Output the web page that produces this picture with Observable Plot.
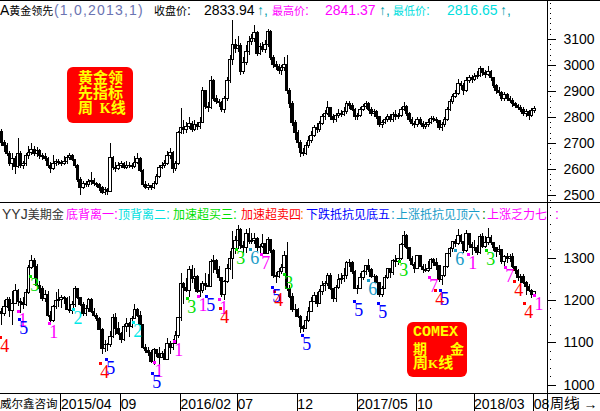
<!DOCTYPE html>
<html><head><meta charset="utf-8">
<script src="https://cdn.jsdelivr.net/npm/d3@7"></script>
<script src="https://cdn.jsdelivr.net/npm/@observablehq/plot@0.6"></script>
<style>
body{margin:0;background:#fff;}
#wrap{position:relative;width:600px;height:411px;overflow:hidden;background:#fff;font-family:"Liberation Sans",Arial,sans-serif;font-size:14px;color:#000;}
.abs{position:absolute;white-space:nowrap;line-height:16px;}
.hl{position:absolute;left:0;width:600px;height:1px;background:#000;}
.vl{position:absolute;top:0;left:547px;width:1px;height:411px;background:#000;}
.box{position:absolute;background:#ff0000;border-radius:6px;color:#ffff00;font-weight:bold;font-family:"Noto Sans CJK SC",sans-serif;}
.box div{white-space:nowrap;}
svg{position:absolute;left:0;}
</style></head><body><div id="wrap"></div>
<script>
// ---------- data ----------
const comexOpen0 = 1172;
const comexClose = [1169,1185,1201,1175,1191,1222,1196,1195,1189,1217,
1277,1293,1279,1234,1227,1204,1213,1164,1152,1184,
1199,1201,1205,1203,1178,1176,1189,1226,1205,1190,
1168,1180,1201,1173,1163,1157,1131,1085,1095,1094,
1113,1159,1133,1121,1108,1137,1145,1137,1156,1177,
1163,1142,1088,1081,1076,1056,1084,1075,1065,1075,
1060,1098,1089,1098,1116,1158,1239,1230,1222,1271,
1250,1255,1221,1223,1240,1234,1232,1290,1294,1273,
1252,1212,1244,1275,1298,1322,1340,1366,1328,1323,
1357,1337,1341,1345,1324,1327,1334,1310,1342,1317,
1257,1255,1267,1276,1305,1227,1208,1178,1177,1162,
1137,1133,1152,1173,1197,1210,1191,1220,1234,1239,
1258,1226,1203,1230,1249,1251,1257,1289,1289,1268,
1228,1228,1254,1268,1281,1271,1256,1256,1242,1212,
1228,1254,1274,1264,1294,1291,1297,1330,1351,1324,
1297,1284,1275,1304,1280,1272,1269,1274,1296,1288,
1281,1248,1257,1278,1309,1322,1338,1333,1351,1337,
1316,1356,1330,1323,1324,1313,1350,1327,1336,1348,
1336,1323,1315,1320,1291,1303,1298,1302,1279,1270,
1254,1255,1241,1231,1223,1214,1219];
const comexHigh = [1180,1200,1208,1207,1222,1238,1225,1205,1208,1225,
1282,1307,1298,1285,1244,1232,1224,1222,1175,1188,
1219,1225,1212,1209,1207,1209,1197,1232,1227,1206,
1196,1188,1205,1205,1180,1170,1160,1135,1105,1099,
1126,1168,1170,1147,1125,1144,1157,1148,1162,1191,
1180,1174,1143,1097,1090,1081,1088,1085,1089,1080,
1085,1111,1103,1108,1128,1160,1263,1243,1253,1281,
1282,1275,1260,1241,1246,1263,1262,1297,1306,1296,
1281,1254,1248,1286,1315,1362,1350,1377,1370,1339,
1367,1369,1357,1358,1348,1331,1356,1335,1348,1345,
1320,1267,1275,1285,1315,1338,1235,1217,1191,1180,
1165,1142,1163,1183,1207,1220,1219,1226,1244,1244,
1264,1264,1229,1236,1261,1264,1275,1292,1297,1293,
1270,1236,1264,1271,1282,1297,1275,1261,1260,1243,
1233,1258,1275,1275,1296,1306,1299,1334,1362,1356,
1326,1304,1290,1306,1306,1286,1284,1291,1299,1298,
1299,1282,1260,1279,1311,1326,1340,1345,1367,1356,
1339,1365,1358,1336,1341,1330,1356,1357,1350,1369,
1354,1338,1326,1330,1321,1306,1310,1309,1310,1281,
1272,1262,1262,1245,1237,1226,1222];
const comexLow = [1140,1162,1180,1161,1142,1190,1187,1170,1178,1185,
1215,1274,1251,1230,1216,1197,1195,1161,1142,1148,
1178,1183,1180,1191,1176,1170,1168,1183,1203,1185,
1162,1162,1172,1169,1160,1150,1130,1072,1077,1079,
1090,1110,1118,1118,1098,1104,1124,1113,1135,1155,
1159,1140,1085,1075,1068,1052,1046,1066,1046,1064,
1058,1061,1072,1082,1098,1110,1150,1191,1220,1208,
1240,1227,1216,1208,1216,1223,1230,1230,1264,1262,
1245,1206,1200,1240,1270,1250,1308,1320,1320,1311,
1312,1333,1332,1331,1316,1306,1322,1309,1310,1311,
1252,1241,1251,1261,1275,1221,1204,1171,1159,1158,
1122,1124,1131,1148,1172,1195,1183,1190,1213,1221,
1233,1224,1196,1195,1227,1238,1243,1250,1278,1262,
1226,1214,1226,1247,1260,1266,1252,1240,1239,1207,
1208,1225,1249,1253,1258,1279,1283,1294,1326,1320,
1291,1281,1264,1273,1277,1264,1266,1266,1272,1280,
1270,1243,1236,1254,1276,1301,1313,1324,1330,1332,
1310,1314,1323,1307,1316,1306,1309,1322,1323,1330,
1330,1316,1302,1305,1285,1281,1288,1290,1275,1262,
1245,1240,1237,1211,1219,1204,1209];

const goldOpen0 = 2745;
const goldClose = [2700,2690,2660,2620,2640,2610,2660,2615,2620,2650,
2665,2675,2660,2670,2650,2648,2640,2615,2600,2620,
2630,2625,2622,2628,2645,2650,2635,2615,2560,2530,
2545,2540,2550,2555,2545,2540,2530,2510,2520,2515,
2645,2605,2600,2615,2620,2605,2612,2615,2610,2625,
2640,2595,2540,2530,2535,2530,2545,2570,2605,2615,
2620,2650,2665,2600,2620,2740,2760,2750,2765,2775,
2750,2770,2765,2780,2900,2840,2835,2940,2870,2860,
2855,2830,2870,2940,3020,3080,3065,3075,2975,3010,
3050,3090,3100,3125,3045,3070,3060,3080,3130,3030,
3000,2995,2980,2990,3000,2900,2850,2780,2740,2700,
2665,2660,2690,2710,2730,2760,2750,2775,2800,2815,
2835,2800,2790,2805,2815,2810,2820,2850,2845,2830,
2800,2805,2830,2840,2850,2830,2815,2820,2800,2770,
2780,2790,2800,2790,2810,2800,2805,2830,2840,2815,
2790,2775,2770,2790,2775,2765,2770,2780,2795,2790,
2785,2760,2770,2790,2830,2860,2880,2890,2930,2920,
2900,2940,2950,2945,2955,2960,2985,2970,2965,2975,
2950,2920,2900,2895,2870,2885,2870,2865,2850,2845,
2835,2830,2815,2820,2805,2825,2833.94];
const goldHigh = [2752,2712,2698,2668,2660,2648,2719,2668,2630,2660,
2690,2700,2690,2685,2678,2662,2660,2645,2625,2655,
2640,2640,2635,2650,2655,2660,2658,2640,2620,2570,
2555,2552,2560,2590,2565,2550,2545,2535,2530,2528,
2700,2650,2625,2625,2632,2628,2630,2625,2622,2650,
2662,2645,2600,2552,2545,2540,2555,2580,2615,2625,
2635,2668,2680,2670,2630,2745,2835,2790,2780,2800,
2785,2790,2780,2800,2915,2905,2858,2958,2945,2885,
2870,2862,2880,2955,3040,3173,3100,3110,3085,3030,
3075,3110,3120,3154,3130,3085,3090,3095,3140,3135,
3040,3015,3005,3000,3030,3040,2910,2860,2790,2750,
2710,2680,2705,2725,2745,2770,2775,2785,2812,2825,
2860,2840,2810,2815,2830,2825,2840,2862,2860,2855,
2835,2815,2840,2850,2862,2858,2838,2830,2825,2805,
2790,2800,2812,2810,2820,2825,2815,2840,2858,2845,
2820,2798,2785,2800,2798,2785,2782,2792,2805,2805,
2800,2790,2780,2798,2838,2870,2890,2905,2945,2940,
2930,2955,2962,2960,2968,2975,2995,2990,2980,2998,
2980,2955,2928,2915,2900,2895,2892,2880,2872,2858,
2850,2845,2838,2830,2825,2835,2841.37];
const goldLow = [2688,2665,2650,2610,2596,2580,2605,2602,2600,2612,
2640,2652,2648,2645,2640,2636,2630,2605,2585,2595,
2610,2615,2612,2615,2620,2635,2630,2605,2550,2500,
2522,2530,2532,2540,2535,2530,2515,2502,2500,2498,
2512,2595,2590,2595,2605,2598,2600,2602,2600,2605,
2618,2588,2532,2522,2520,2518,2522,2540,2565,2598,
2605,2615,2640,2585,2592,2615,2735,2735,2740,2755,
2742,2745,2748,2755,2775,2830,2820,2830,2862,2850,
2840,2820,2815,2862,2930,3000,3045,3050,2960,2965,
3000,3040,3075,3090,3035,3038,3050,3045,3070,3020,
2990,2980,2965,2960,2975,2890,2835,2765,2710,2680,
2646,2650,2655,2680,2700,2722,2738,2742,2770,2790,
2808,2790,2775,2780,2795,2798,2805,2812,2830,2822,
2790,2788,2798,2822,2830,2822,2805,2800,2792,2760,
2758,2772,2782,2780,2782,2790,2792,2798,2822,2805,
2780,2765,2758,2762,2768,2752,2755,2762,2772,2780,
2775,2750,2745,2762,2785,2822,2850,2872,2885,2905,
2885,2895,2930,2932,2940,2945,2952,2958,2950,2958,
2940,2910,2890,2882,2860,2862,2860,2855,2840,2835,
2825,2820,2805,2800,2790,2798,2816.65];

// x axis (weekly bar index of first week of month)
const tickIdx = [21,43,65,86,108,130,152,173,195];
const tickLabels = ["2015/04","09","2016/02","07","12","2017/05","10","2018/03","08"];
const goldTicks = [2500,2600,2700,2800,2900,3000,3100];
const comexTicks = [1000,1100,1200,1300];

// signal markers on the COMEX panel
const markerIdx = [1.1,7.7,8.1,12.1,19.1,28,37.9,40.1,50,57.8,57,65.1,69.9,74,76.9,81.7,82,87.9,93.1,97.1,101.2,101.9,105.6,112.2,131.3,136.5,140.2,147.9,158.9,161.1,163,168.5,173.3,179.9,186.9,190.2,193.9,197.6];
const markerVal = [1092,1153,1134,1235,1125,1158,1030,1040,1127,1033,1007,1082,1183,1188,1188,1181,1160,1299,1299,1287,1209,1200,1240,1096,1176,1226,1172,1271,1233,1202,1202,1297,1287,1297,1257,1224,1172,1191];
const markerType = [4,1,5,3,1,2,4,5,2,1,5,1,3,1,5,1,4,3,6,7,5,4,3,5,5,6,5,3,7,4,5,6,1,3,7,4,4,1];
const typeColor = {1:"#ff00ff",2:"#00e8e8",3:"#00e000",4:"#ff0000",5:"#0000ff",6:"#1a9cc8",7:"#ff00ff"};

// ---------- build ----------
const wrap = document.getElementById("wrap");
const xDomain = [-0.478, 200.77];
const FONT = "Liberation Sans, Arial, sans-serif";

function rowsOf(open0, close, high, low){
  return close.map((c,i)=>({i, o: i===0 ? open0 : close[i-1], c, h: high[i], l: low[i]}));
}
function candles(rows){
  const up = rows.filter(d=>d.c>d.o), dn = rows.filter(d=>d.c<d.o), eq = rows.filter(d=>d.c===d.o);
  const bx1 = d=>d.i-0.45, bx2 = d=>d.i+0.45;
  return [
    Plot.ruleX(rows,{x:"i",y1:"l",y2:"h",stroke:"#000",strokeWidth:1}),
    Plot.rect(up,{x1:bx1,x2:bx2,y1:"o",y2:"c",fill:"#fff",stroke:"#000",strokeWidth:1}),
    Plot.rect(dn,{x1:bx1,x2:bx2,y1:"o",y2:"c",fill:"#000",stroke:"#000",strokeWidth:1}),
    Plot.ruleY(eq,{x1:bx1,x2:bx2,y:"c",stroke:"#000",strokeWidth:1})
  ];
}

const goldRows = rowsOf(goldOpen0, goldClose, goldHigh, goldLow);
const comexRows = rowsOf(comexOpen0, comexClose, comexHigh, comexLow);
const markers = markerIdx.map((x,k)=>({i:x, v:markerVal[k], t:String(markerType[k]), color:typeColor[markerType[k]]}));
const labMap = new Map(tickIdx.map((d,k)=>[d,tickLabels[k]]));

const topPlot = Plot.plot({
  width:600, height:203, marginTop:0, marginBottom:0, marginLeft:0, marginRight:53,
  x:{domain:xDomain, axis:null},
  y:{domain:[2469,3250]},
  style:{fontFamily:FONT, fontSize:"14px", background:"transparent", shapeRendering:"crispEdges"},
  marks:[
    ...candles(goldRows),
    Plot.axisY(goldTicks,{anchor:"right", tickSize:8, tickPadding:8, tickFormat:"d", fontSize:14}),
    Plot.axisY(d3.range(2480,3260,20),{anchor:"right", tickSize:1, dx:2, tickFormat:()=>""})
  ]
});
topPlot.style.top = "0px";
wrap.appendChild(topPlot);

const botPlot = Plot.plot({
  width:600, height:208, marginTop:0, marginBottom:18, marginLeft:0, marginRight:53,
  x:{domain:xDomain},
  y:{domain:[980.7,1428.8]},
  color:{type:"identity"},
  style:{fontFamily:FONT, fontSize:"14px", background:"transparent", shapeRendering:"crispEdges"},
  marks:[
    ...candles(comexRows),
    Plot.dot(markers,{x:"i", y:"v", fill:"color", r:1.7, symbol:"square", dx:-4, dy:-9}),
    Plot.text(markers,{x:"i", y:"v", text:"t", fill:"color", fontSize:18, fontFamily:"Liberation Serif, serif"}),
    Plot.axisY(comexTicks,{anchor:"right", tickSize:8, tickPadding:8, tickFormat:"d", fontSize:14}),
    Plot.axisY(d3.range(980,1430,20),{anchor:"right", tickSize:1, dx:2, tickFormat:()=>""}),
    Plot.axisX(tickIdx,{anchor:"bottom", tickSize:18, tickPadding:-12, textAnchor:"start", dx:2, fontSize:14, tickFormat:d=>labMap.get(d)})
  ]
});
botPlot.style.top = "203px";
wrap.appendChild(botPlot);

// ---------- lines ----------
function line(cls, top){ const d=document.createElement("div"); d.className=cls; if(top!==undefined) d.style.top=top+"px"; wrap.appendChild(d); }
line("hl",0); line("hl",202); line("hl",393); line("vl");

// ---------- text ----------
function cjkWrap(t, size){
  return t.replace(/([\u2e80-\u9fff\uff00-\uffef]+)/g, `<span style="font-family:'Noto Sans CJK SC',sans-serif;font-size:${size}px">$1</span>`);
}
function addText(t, left, top, color, cjkSize, extra){
  const d=document.createElement("div"); d.className="abs";
  d.style.left=left+"px"; d.style.top=top+"px"; d.style.color=color;
  if(extra) Object.assign(d.style, extra);
  d.innerHTML = cjkWrap(t, cjkSize); wrap.appendChild(d);
}
const TEAL="#00a0a8";
const row1 = [
  ["A黄金领先",0,"#000"],["(1,0,2013,1)",54,"#6b74b2",{letterSpacing:"1.2px"}],
  ["收盘价:",154,"#000"],["2833.94",204,"#000"],["↑,",257,TEAL],
  ["最高价:",272,"#ff00ff"],["2841.37",325,"#ff00ff"],["↑,",379,TEAL],
  ["最低价:",393,"#00dede"],["2816.65",447,"#00dede"],["↑,",500,TEAL]
];
row1.forEach(s=>addText(s[0],s[1],1.5,s[2],11,s[3]));

const row2 = [
  ["YYJ美期金",2,"#333"],["底背离一:",66,"#ff00ff"],["顶背离二:",118,"#00e0e0"],
  ["加速超买三:",173,"#00e000"],["加速超卖四",241,"#ff0000"],[":",300,"#ff8000"],
  ["下跌抵抗见底五",306,"#0000ff"],[":",391,"#1a9cc8"],["上涨抵抗见顶六",396,"#1a9cc8"],
  [":",482,"#008000"],["上涨乏力七",487,"#ff00ff"],[":",555,"#ff00ff"]
];
row2.forEach(s=>addText(s[0],s[1],205.5,s[2],12));

addText("威尔鑫咨询",0,394.5,"#000",11.5);
addText("周线",550,394,"#000",14);

// ---------- boxes ----------
function box(left, top, w, h, html, pad){
  const d=document.createElement("div"); d.className="box";
  Object.assign(d.style,{left:left+"px",top:top+"px",width:w+"px",height:h+"px",padding:pad,boxSizing:"border-box"});
  d.innerHTML=html; wrap.appendChild(d);
}
box(67,67,66,56,
 `<div style="font-size:15px;line-height:15px">黄金领</div><div style="font-size:15px;line-height:15px">先指标</div><div style="font-size:15px;line-height:15px">周&nbsp;&nbsp;<span style="font-family:'Liberation Serif',serif;font-size:14px">K</span>线</div>`,
 "2px 0 0 11px");
box(407,322,60,55,
 `<div style="font-family:'Liberation Mono',monospace;font-size:15px;line-height:14.5px">COMEX</div><div style="font-size:14px;line-height:14.5px">期<span style="display:inline-block;width:23px"></span>金</div><div style="font-size:15px;line-height:14.5px">周<span style="font-family:'Liberation Serif',serif;font-size:13px">K</span>线</div>`,
 "4px 0 0 6px");
</script></body></html>
